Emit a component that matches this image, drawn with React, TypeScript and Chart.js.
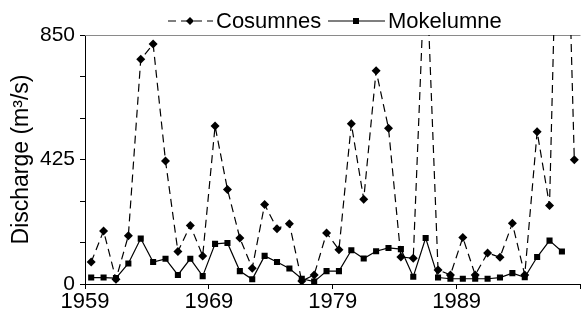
import { useEffect, useRef } from 'react';
import { Chart, registerables } from 'chart.js';

Chart.register(...registerables);

const years = [
  1959, 1960, 1961, 1962, 1963, 1964, 1965, 1966, 1967, 1968,
  1969, 1970, 1971, 1972, 1973, 1974, 1975, 1976, 1977, 1978,
  1979, 1980, 1981, 1982, 1983, 1984, 1985, 1986, 1987, 1988,
  1989, 1990, 1991, 1992, 1993, 1994, 1995, 1996, 1997, 1998,
];
const cosumnes = [
  75, 181, 16, 165, 767, 819, 420, 111, 200, 96,
  539, 323, 157, 54, 271, 189, 206, 10, 31, 174,
  117, 547, 289, 728, 532, 92, 88, 1150, 48, 31,
  159, 31, 106, 91, 207, 31, 520, 268, 2000, 424,
];
const mokelumne = [
  22, 22, 20, 70, 155, 75, 86, 31, 86, 27,
  137, 140, 44, 16, 96, 75, 53, 18, 8, 44,
  44, 115, 87, 112, 123, 119, 25, 157, 22, 18,
  18, 18, 18, 22, 37, 23, 92, 148, 111, null,
];
const seriesNames = ['Cosumnes', 'Mokelumne'];
const xTickValues = [1959, 1969, 1979, 1989, 1999];
const xTickLabels = ['1959', '1969', '1979', '1989', ''];
const yTickLabels = [0, 425, 850];
const yAxisTitle = 'Discharge (m\u00B3/s)';

const FONT = '"Liberation Sans", Arial, Helvetica, sans-serif';

const topBorderPlugin = {
  id: 'topBorder',
  beforeDatasetsDraw(chart: any) {
    const { ctx, chartArea } = chart;
    ctx.save();
    ctx.strokeStyle = '#8a8a8a';
    ctx.lineWidth = 1;
    ctx.beginPath();
    ctx.moveTo(chartArea.left, chartArea.top + 0.5);
    ctx.lineTo(chartArea.right, chartArea.top + 0.5);
    ctx.stroke();
    ctx.restore();
  },
};

const legendPlugin = {
  id: 'customLegend',
  afterDraw(chart: any) {
    const ctx = chart.ctx;
    ctx.save();
    const y = 21;
    ctx.font = `22px ${FONT}`;
    ctx.textBaseline = 'middle';
    ctx.textAlign = 'left';
    ctx.fillStyle = '#000';
    ctx.strokeStyle = '#000';
    ctx.lineWidth = 1.2;
    // Cosumnes
    ctx.setLineDash([8, 5]);
    ctx.beginPath();
    ctx.moveTo(168, y);
    ctx.lineTo(213, y);
    ctx.stroke();
    ctx.setLineDash([]);
    ctx.beginPath();
    ctx.moveTo(190 - 4, y);
    ctx.lineTo(190, y - 4);
    ctx.lineTo(190 + 4, y);
    ctx.lineTo(190, y + 4);
    ctx.closePath();
    ctx.fill();
    ctx.fillText(seriesNames[0], 216, y + 1);
    // Mokelumne
    ctx.beginPath();
    ctx.moveTo(328, y);
    ctx.lineTo(385, y);
    ctx.stroke();
    ctx.fillRect(356 - 3, y - 3, 6, 6);
    ctx.fillText(seriesNames[1], 388, y + 1);
    ctx.restore();
  },
};

export default function App() {
  const canvasRef = useRef<HTMLCanvasElement | null>(null);

  useEffect(() => {
    document.body.style.margin = '0';
    const canvas = canvasRef.current;
    if (!canvas) return;
    const chart = new Chart(canvas, {
      type: 'line',
      data: {
        datasets: [
          {
            label: seriesNames[0],
            data: years.map((yr, i) => ({ x: yr + 0.5, y: cosumnes[i] })),
            borderColor: '#000',
            backgroundColor: '#000',
            borderWidth: 1.2,
            borderDash: [8, 5],
            pointStyle: 'rectRot',
            pointRadius: 4.5,
            pointBorderWidth: 0,
            pointBackgroundColor: '#000',
            tension: 0,
          },
          {
            label: seriesNames[1],
            data: years.map((yr, i) => ({ x: yr + 0.5, y: mokelumne[i] })),
            borderColor: '#000',
            backgroundColor: '#000',
            borderWidth: 1.2,
            pointStyle: 'rect',
            pointRadius: 4.3,
            pointBorderWidth: 0,
            pointBackgroundColor: '#000',
            tension: 0,
          },
        ],
      },
      options: {
        animation: false,
        responsive: false,
        devicePixelRatio: 1,
        layout: { padding: { top: 35, left: 0, right: 0, bottom: 0 } },
        plugins: {
          legend: { display: false },
          tooltip: { enabled: false },
        },
        scales: {
          x: {
            type: 'linear',
            min: 1959,
            max: 1999,
            afterBuildTicks: (s: any) => {
              s.ticks = xTickValues.map((v) => ({ value: v }));
            },
            afterFit: (s: any) => {
              s.height = 25;
            },
            ticks: {
              autoSkip: false,
              maxRotation: 0,
              padding: 0,
              color: '#000',
              font: { family: FONT, size: 22 },
              callback: (v: any) => {
                const i = xTickValues.indexOf(Number(v));
                return i >= 0 ? xTickLabels[i] : '';
              },
            },
            grid: { drawOnChartArea: false, drawTicks: true, tickLength: 5, color: '#000' },
            border: { color: '#000', width: 1 },
          },
          y: {
            type: 'linear',
            min: 0,
            max: 850,
            afterBuildTicks: (s: any) => {
              const t = [];
              for (let k = 0; k <= 6; k++) t.push({ value: (850 * k) / 6 });
              s.ticks = t;
            },
            afterFit: (s: any) => {
              s.width = 85;
            },
            ticks: {
              padding: 5,
              color: '#000',
              font: { family: FONT, size: 21 },
              callback: (v: any) => {
                const n = Number(v);
                const hit = yTickLabels.find((l) => Math.abs(l - n) < 0.01);
                return hit !== undefined ? String(hit) : '';
              },
            },
            title: {
              display: true,
              text: yAxisTitle,
              color: '#000',
              font: { family: FONT, size: 23 },
              padding: { top: 8, bottom: 0 },
            },
            grid: { drawOnChartArea: false, drawTicks: true, tickLength: 5, color: '#000' },
            border: { color: '#000', width: 1 },
          },
        },
      },
      plugins: [topBorderPlugin, legendPlugin],
    });
    return () => chart.destroy();
  }, []);

  return (
    <div style={{ position: 'absolute', left: 0, top: 0, width: 585, height: 309, background: '#fff' }}>
      <canvas ref={canvasRef} width={585} height={309} style={{ width: 585, height: 309, display: 'block' }} />
    </div>
  );
}
